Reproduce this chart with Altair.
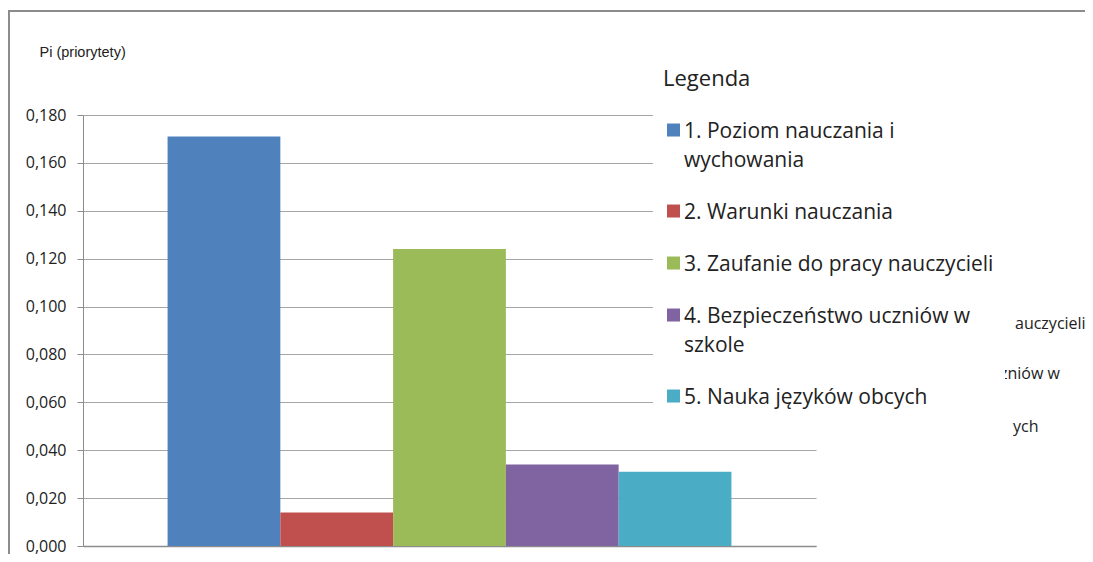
import altair as alt
import pandas as pd

categories = [
    "1. Poziom nauczania i wychowania",
    "2. Warunki nauczania",
    "3. Zaufanie do pracy nauczycieli",
    "4. Bezpieczeństwo uczniów w szkole",
    "5. Nauka języków obcych",
]
values = [0.171, 0.014, 0.124, 0.034, 0.031]
colors = ["#4F81BD", "#C0504D", "#9BBB59", "#8064A2", "#4BACC6"]
y_ticks = [0.0, 0.02, 0.04, 0.06, 0.08, 0.10, 0.12, 0.14, 0.16, 0.18]
fragments = ["auczycieli", "zniów w", "ych"]

FONT = "Open Sans"
df = pd.DataFrame({"kat": categories, "pi": values})

label_expr = (
    "datum.label == '1. Poziom nauczania i wychowania' ? ['1. Poziom nauczania i', 'wychowania'] : "
    "datum.label == '4. Bezpieczeństwo uczniów w szkole' ? ['4. Bezpieczeństwo uczniów w', 'szkole'] : datum.label"
)

# square raised so that it sits at the cap-height centre of an alphabetic baseline
square_path = "M -1 -2.15 L 1 -2.15 L 1 -0.15 L -1 -0.15 Z"

legend = alt.Legend(
    title="Legenda",
    orient="none",
    legendX=570,
    legendY=-56,
    padding=10,
    fillColor="white",
    strokeColor="white",
    zindex=1,
    symbolType=square_path,
    symbolSize=169,
    symbolStrokeWidth=0,
    symbolOpacity=1,
    titleFont=FONT,
    titleFontSize=22,
    titleFontWeight="normal",
    titleColor="#222",
    titlePadding=36,
    labelFont=FONT,
    labelFontSize=21,
    labelColor="#222",
    labelLimit=500,
    labelOffset=0,
    labelBaseline="alphabetic",
    labelExpr=label_expr,
    rowPadding=30,
)

bars = alt.Chart(df).mark_bar().encode(
    x=alt.X(
        "kat:N",
        sort=categories,
        scale=alt.Scale(paddingInner=0, paddingOuter=0.75),
        axis=alt.Axis(title=None, labels=False, ticks=False, domainColor="#8c8c8c", domainWidth=1.5),
    ),
    y=alt.Y(
        "pi:Q",
        scale=alt.Scale(domain=[0, 0.18], nice=False),
        axis=alt.Axis(
            values=y_ticks,
            labelExpr="replace(format(datum.value, '.3f'), '.', ',')",
            title="Pi (priorytety)",
            titleAngle=0,
            titleX=-44,
            titleY=-59,
            titleAlign="left",
            titleBaseline="alphabetic",
            titleFont="Liberation Sans",
            titleFontSize=14.5,
            titleFontWeight="normal",
            titleColor="#222",
            labelFont=FONT,
            labelFontSize=16,
            labelColor="#222",
            labelPadding=11,
            tickSize=6,
            tickColor="#8c8c8c",
            domainColor="#8c8c8c",
            gridColor="#a6a6a6",
            grid=True,
        ),
    ),
    color=alt.Color("kat:N", scale=alt.Scale(domain=categories, range=colors), legend=legend),
)

frame_top = alt.Chart(pd.DataFrame({"a": [0]})).mark_rule(color="#8c8c8c", strokeWidth=2).encode(
    x=alt.value(-75), x2=alt.value(1010), y=alt.value(-104)
)
frame_left = alt.Chart(pd.DataFrame({"a": [0]})).mark_rule(color="#8c8c8c", strokeWidth=2).encode(
    x=alt.value(-74), y=alt.value(-105), y2=alt.value(447)
)

frag_layers = []
frag_pos = [(932, 214), (917, 264), (930, 317)]
for txt, (fx, fy) in zip(fragments, frag_pos):
    frag_layers.append(
        alt.Chart(pd.DataFrame({"t": [txt]})).mark_text(
            font=FONT, fontSize=16, color="#222", align="left", baseline="alphabetic"
        ).encode(text="t:N", x=alt.value(fx), y=alt.value(fy))
    )

chart = (
    alt.layer(*frag_layers, bars, frame_top, frame_left)
    .properties(
        width=733,
        height=431,
        autosize=alt.AutoSizeParams(type="none"),
        padding={"left": 75, "top": 107, "right": 269, "bottom": 8},
    )
    .configure(style={"guide-label": {"lineHeight": 29}})
    .configure_view(stroke=None)
)

chart.save("out.html", embed_options={"renderer": "svg", "actions": False})
